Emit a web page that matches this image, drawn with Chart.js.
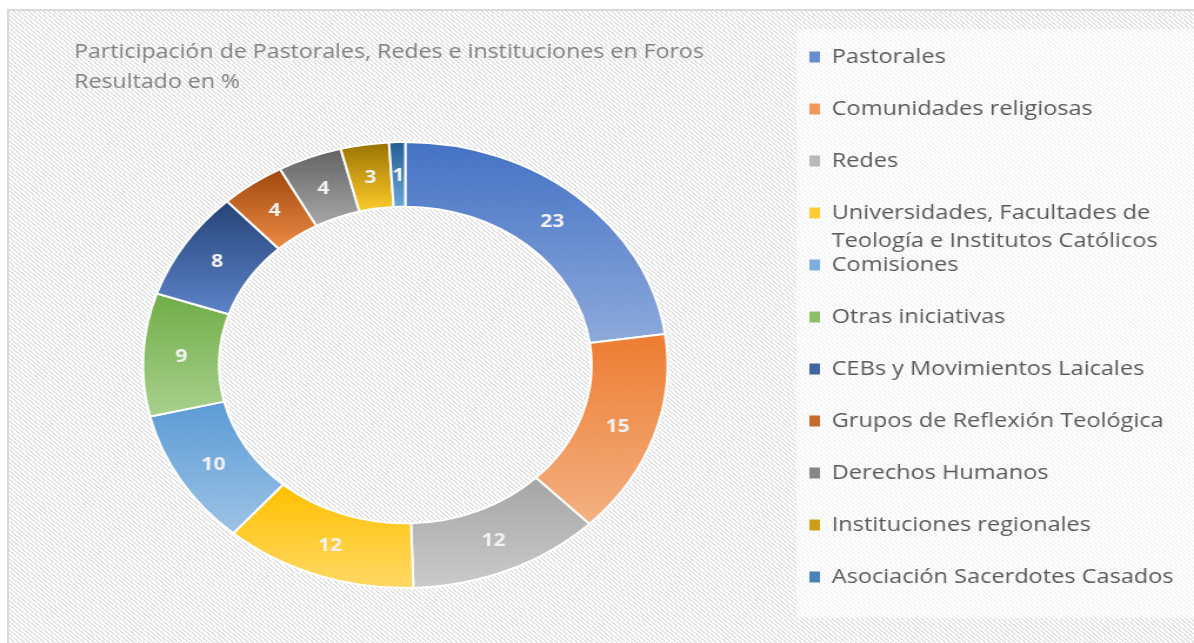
<!DOCTYPE html>
<html>
<head>
<meta charset="utf-8">
<title>Participación en Foros</title>
<script src="https://cdn.jsdelivr.net/npm/chart.js@4.4.1/dist/chart.umd.min.js"></script>
<style>
  html, body { margin: 0; padding: 0; background: #fff; width: 1194px; height: 643px; overflow: hidden; }
  #frame {
    position: absolute; left: 7px; top: 9px; width: 1187px; height: 634px; box-sizing: border-box;
    border-left: 2px solid #d9d9d9; border-top: 2px solid #d9d9d9;
    background: repeating-linear-gradient(40deg, #e2e2e2 0px, #e2e2e2 1.3px, #fcfcfc 1.3px, #fcfcfc 3.2px);
  }
  /* the whole picture is stretched sideways, so the canvas is too */
  #wrap { position: absolute; left: 0; top: 0; width: 1015px; height: 643px; transform: scaleX(1.1764); transform-origin: 0 0; }
</style>
</head>
<body>
<div id="frame"></div>
<div id="wrap"><canvas id="chart" width="1015" height="643"></canvas></div>
<script>
var titleLines = ["Participación de Pastorales, Redes e instituciones en Foros", "Resultado en %"];
var categories = [
    "Pastorales",
    "Comunidades religiosas",
    "Redes",
    ["Universidades, Facultades de", "Teología e Institutos Católicos"],
    "Comisiones",
    "Otras iniciativas",
    "CEBs y Movimientos Laicales",
    "Grupos de Reflexión Teológica",
    "Derechos Humanos",
    "Instituciones regionales",
    "Asociación Sacerdotes Casados"
];
var values = [23, 15, 12, 12, 10, 9, 8, 4, 4, 3, 1];

var topColors = ["#4472c4", "#ed7d31", "#a5a5a5", "#ffc000", "#5b9bd5", "#70ad47",
                 "#264478", "#9e480e", "#636363", "#997300", "#255e91"];
var bottomColors = ["#8eaadc", "#f4b183", "#cbcbcb", "#ffd966", "#9dc3e6", "#a9d18e",
                    "#5d83c9", "#ee8a45", "#a8a8a8", "#ffcb2b", "#6aa6dc"];
var fontFamily = "'Open Sans', sans-serif";
var legendText = "#595959";
var lineGap = 28;      // second line of a wrapped legend entry
var legendLeft = 656;  // where the legend block starts on the (unstretched) canvas

function mix(a, b) {
    var out = "#";
    for (var k = 1; k < 7; k += 2) {
        var v = Math.round((parseInt(a.substr(k, 2), 16) + parseInt(b.substr(k, 2), 16)) / 2);
        out += ("0" + v.toString(16)).slice(-2);
    }
    return out;
}

// vertical gradient over each slice's own height, like the office fill
function sliceFill(ctx) {
    var i = ctx.dataIndex;
    var chart = ctx.chart;
    var area = chart.chartArea;
    var ctrl = chart.getDatasetMeta(0).controller;
    if (!area || !ctrl || !ctrl.outerRadius) return topColors[i];
    var cy = (area.top + area.bottom) / 2;
    var total = 0, before = 0;
    for (var k = 0; k < values.length; k++) {
        total += values[k];
        if (k < i) before += values[k];
    }
    var a0 = -Math.PI / 2 + 2 * Math.PI * before / total;
    var a1 = a0 + 2 * Math.PI * values[i] / total;
    var ys = [];
    [a0, a1].forEach(function(a) {
        ys.push(cy + ctrl.outerRadius * Math.sin(a), cy + ctrl.innerRadius * Math.sin(a));
    });
    [-Math.PI / 2, Math.PI / 2, 3 * Math.PI / 2].forEach(function(t) {
        if (t >= a0 && t <= a1) ys.push(cy + ctrl.outerRadius * Math.sin(t));
    });
    var g = chart.ctx.createLinearGradient(0, Math.min.apply(null, ys), 0, Math.max.apply(null, ys));
    g.addColorStop(0, topColors[i]);
    g.addColorStop(1, bottomColors[i]);
    return g;
}

var legendPanel = {
    id: "legendPanel",
    beforeDraw: function(chart) {
        var hb = chart.legend.legendHitBoxes;
        if (!hb || !hb.length) return;
        var first = hb[0], last = hb[hb.length - 1];
        var c = chart.ctx;
        c.save();
        c.fillStyle = "rgba(255,255,255,0.6)";
        c.fillRect(first.left - 11, first.top - 18, chart.width - first.left + 11, last.top + last.height + 31 - (first.top - 18));
        c.restore();
    }
};

var sliceLabels = {
    id: "sliceLabels",
    afterDatasetsDraw: function(chart) {
        var c = chart.ctx;
        c.save();
        c.font = "bold 18px " + fontFamily;
        c.fillStyle = "#f2f2f2";
        c.textAlign = "center";
        c.textBaseline = "middle";
        chart.getDatasetMeta(0).data.forEach(function(arc, i) {
            var p = arc.tooltipPosition();
            c.fillText(values[i], p.x, p.y + 1);
        });
        c.restore();
    }
};

// second line of the wrapped legend entries
var legendExtraLines = {
    id: "legendExtraLines",
    afterDraw: function(chart) {
        var lg = chart.legend, opts = lg.options.labels, c = chart.ctx;
        var font = Chart.helpers.toFont(opts.font);
        c.save();
        c.font = font.string;
        c.fillStyle = legendText;
        c.textAlign = "left";
        c.textBaseline = "middle";
        categories.forEach(function(cat, i) {
            if (!Array.isArray(cat)) return;
            var hb = lg.legendHitBoxes[i];
            for (var k = 1; k < cat.length; k++) {
                c.fillText(cat[k], hb.left + opts.boxWidth + font.size / 2, hb.top + font.size / 2 + k * lineGap);
            }
        });
        c.restore();
    }
};

var chart = new Chart(document.getElementById("chart"), {
    type: "doughnut",
    data: {
        labels: categories,
        datasets: [{
            data: values,
            backgroundColor: sliceFill,
            borderColor: "#ffffff",
            borderWidth: 2
        }]
    },
    options: {
        responsive: false,
        animation: false,
        events: [],
        radius: 223,
        cutout: "71%",
        layout: { padding: { top: 15, left: 63, right: 20, bottom: 10 } },
        plugins: {
            title: {
                display: true,
                text: titleLines,
                align: "start",
                color: "#808080",
                font: { family: fontFamily, size: 19.7, weight: "normal", lineHeight: "30px" },
                padding: { top: 22, bottom: 0 }
            },
            // empty block that keeps the legend away from the ring
            subtitle: {
                display: true,
                position: "right",
                weight: 500,
                text: "",
                font: { size: 1, lineHeight: 1 },
                padding: { top: 0, bottom: 29 }
            },
            legend: {
                position: "right",
                align: "start",
                maxWidth: 600,
                labels: {
                    boxWidth: 9,
                    boxHeight: 11,
                    padding: 32,
                    color: legendText,
                    font: { family: fontFamily, size: 20 },
                    generateLabels: function(chart) {
                        return categories.map(function(cat, i) {
                            return {
                                text: Array.isArray(cat) ? cat[0] : cat,
                                fillStyle: mix(topColors[i], bottomColors[i]),
                                strokeStyle: topColors[i],
                                fontColor: legendText,
                                lineWidth: 0,
                                hidden: false,
                                index: i
                            };
                        });
                    }
                }
            },
            tooltip: { enabled: false }
        }
    },
    plugins: [legendPanel, sliceLabels, legendExtraLines]
});

// legend width depends on the font, so park it once it is measured
chart.options.layout.padding.right += chart.legend.left - legendLeft;
chart.update();
</script>
</body>
</html>
